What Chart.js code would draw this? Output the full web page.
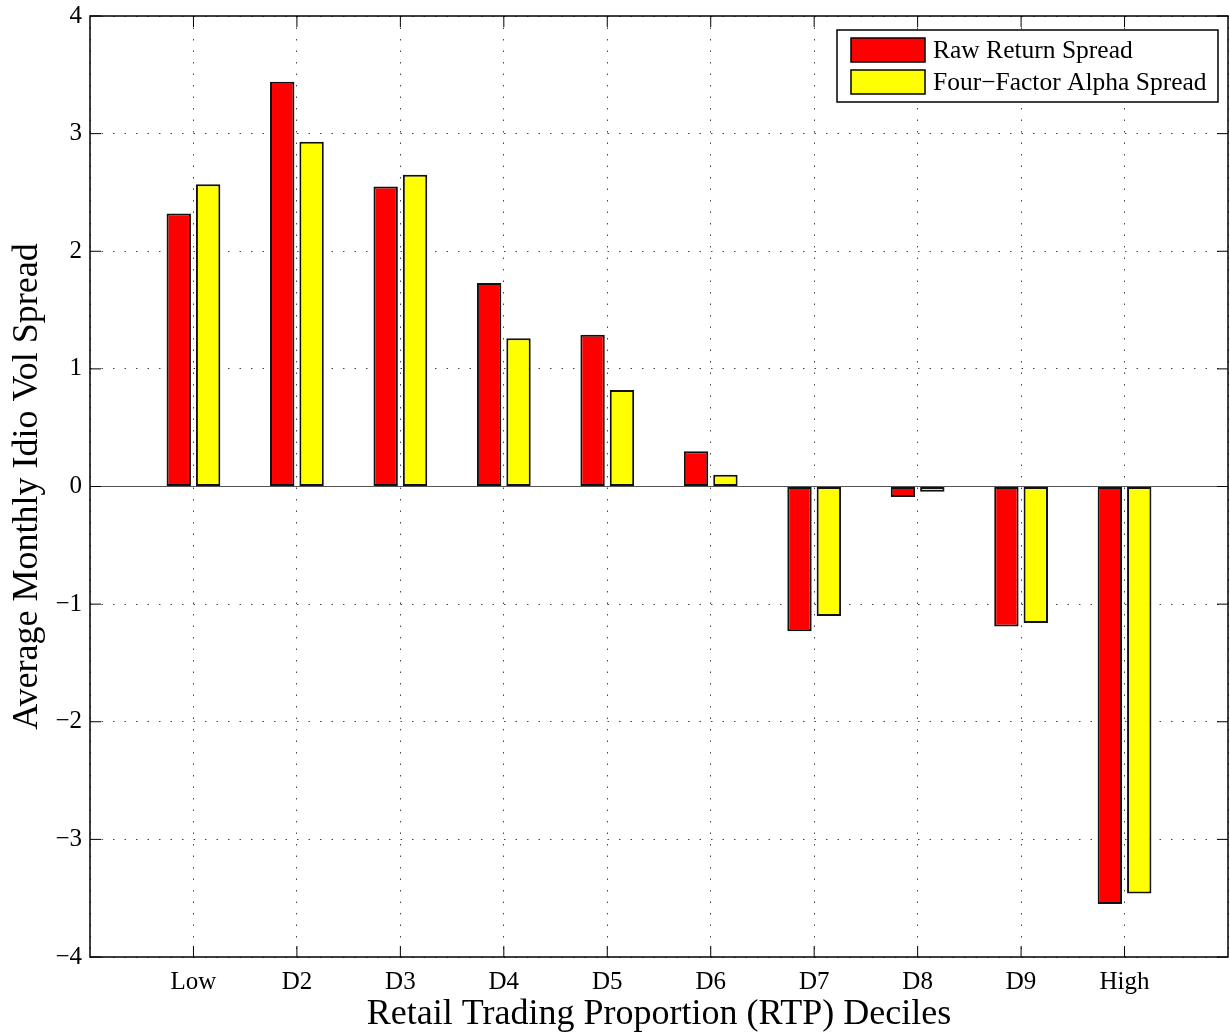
<!DOCTYPE html>
<html>
<head>
<meta charset="utf-8">
<script src="https://cdn.jsdelivr.net/npm/chart.js@4"></script>
<style>
  body { margin: 0; background: #fff; }
</style>
</head>
<body>
<canvas id="grafico" width="1230" height="1034"></canvas>
<script>
// dados
const categorias = ['Low', 'D2', 'D3', 'D4', 'D5', 'D6', 'D7', 'D8', 'D9', 'High'];
const rawSpread = [2.32, 3.44, 2.55, 1.73, 1.29, 0.30, -1.23, -0.09, -1.19, -3.55];
const alphaSpread = [2.57, 2.93, 2.65, 1.26, 0.82, 0.10, -1.10, -0.045, -1.16, -3.46];
const yTicks = [-4, -3, -2, -1, 0, 1, 2, 3, 4];

const fonte = 'Liberation Serif, Times New Roman, serif';

// uma categoria vazia em cada ponta, como no matlab
const labels = [''].concat(categorias, ['']);
const pad = arr => [null].concat(arr, [null]);

const moldura = {
    id: 'moldura',
    beforeDatasetsDraw(chart) {
        const { ctx, chartArea: a, scales: { y } } = chart;
        const y0 = y.getPixelForValue(0);
        ctx.save();
        ctx.strokeStyle = '#555';
        ctx.lineWidth = 1;
        ctx.beginPath();
        ctx.moveTo(a.left, y0);
        ctx.lineTo(a.right, y0);
        ctx.stroke();
        ctx.restore();
    },
    afterDraw(chart) {
        const { ctx, chartArea: a, scales: { x, y } } = chart;
        ctx.save();
        ctx.strokeStyle = '#000';
        ctx.lineWidth = 1.5;
        ctx.strokeRect(a.left, a.top, a.right - a.left, a.bottom - a.top);

        // marcas para dentro
        const len = 11;
        ctx.lineWidth = 1;
        ctx.beginPath();
        categorias.forEach((c, i) => {
            const px = x.getPixelForValue(i + 1);
            ctx.moveTo(px, a.bottom); ctx.lineTo(px, a.bottom - len);
            ctx.moveTo(px, a.top); ctx.lineTo(px, a.top + len);
        });
        yTicks.forEach(v => {
            const py = y.getPixelForValue(v);
            ctx.moveTo(a.left, py); ctx.lineTo(a.left + len, py);
            ctx.moveTo(a.right, py); ctx.lineTo(a.right - len, py);
        });
        ctx.stroke();

        // legenda com borda
        const lw = 381, lh = 72;
        const lx = a.right - 10 - lw, ly = a.top + 14;
        ctx.fillStyle = '#fff';
        ctx.fillRect(lx, ly, lw, lh);
        ctx.lineWidth = 1.5;
        ctx.strokeRect(lx, ly, lw, lh);
        ctx.font = '25.5px ' + fonte;
        ctx.textBaseline = 'middle';
        chart.data.datasets.forEach((ds, i) => {
            const ry = ly + 8 + i * 32;
            ctx.fillStyle = ds.backgroundColor;
            ctx.fillRect(lx + 14, ry, 74, 24);
            ctx.lineWidth = 1.5;
            ctx.strokeStyle = '#000';
            ctx.strokeRect(lx + 14, ry, 74, 24);
            ctx.fillStyle = '#000';
            ctx.fillText(ds.label, lx + 96, ry + 13);
        });
        ctx.restore();
    }
};

const ctx = document.getElementById('grafico');

new Chart(ctx, {
    type: 'bar',
    data: {
        labels: labels,
        datasets: [{
            label: 'Raw Return Spread',
            data: pad(rawSpread),
            backgroundColor: '#ff0000',
            borderColor: '#111',
            borderWidth: 2,
            borderSkipped: false
        }, {
            label: 'Four\u2212Factor Alpha Spread',
            data: pad(alphaSpread),
            backgroundColor: '#ffff00',
            borderColor: '#111',
            borderWidth: 2,
            borderSkipped: false
        }]
    },
    options: {
        responsive: false,
        animation: false,
        categoryPercentage: 0.568,
        barPercentage: 0.83,
        layout: { padding: { top: 16, right: 2, left: 0, bottom: 0 } },
        plugins: {
            legend: { display: false },
            tooltip: { enabled: false }
        },
        scales: {
            x: {
                offset: false,
                grid: { color: '#444', lineWidth: 1, drawTicks: false, offset: false },
                border: { display: false, dash: [1.5, 10] },
                ticks: {
                    color: '#000',
                    font: { family: fonte, size: 25 },
                    padding: 10,
                    maxRotation: 0,
                    autoSkip: false
                },
                title: {
                    display: true,
                    text: 'Retail Trading Proportion (RTP) Deciles',
                    color: '#000',
                    font: { family: fonte, size: 36, lineHeight: 1 },
                    padding: { top: 0, bottom: 1 }
                },
                afterFit(scale) {
                    scale.height = 77;
                    scale.paddingLeft = 0;
                    scale.paddingRight = 0;
                }
            },
            y: {
                min: -4,
                max: 4,
                grid: { color: '#444', lineWidth: 1, drawTicks: false },
                border: { display: false, dash: [1.5, 10] },
                afterBuildTicks(scale) {
                    scale.ticks = yTicks.map(v => ({ value: v }));
                },
                ticks: {
                    color: '#000',
                    font: { family: fonte, size: 25 },
                    padding: 8,
                    callback: v => String(v).replace('-', '\u2212')
                },
                title: {
                    display: true,
                    text: 'Average Monthly Idio Vol Spread',
                    color: '#000',
                    font: { family: fonte, size: 36, lineHeight: 1 },
                    padding: { top: 10, bottom: 0 }
                },
                afterFit(scale) {
                    scale.width = 90;
                    scale.paddingTop = 0;
                    scale.paddingBottom = 0;
                }
            }
        }
    },
    plugins: [moldura]
});
</script>
</body>
</html>
